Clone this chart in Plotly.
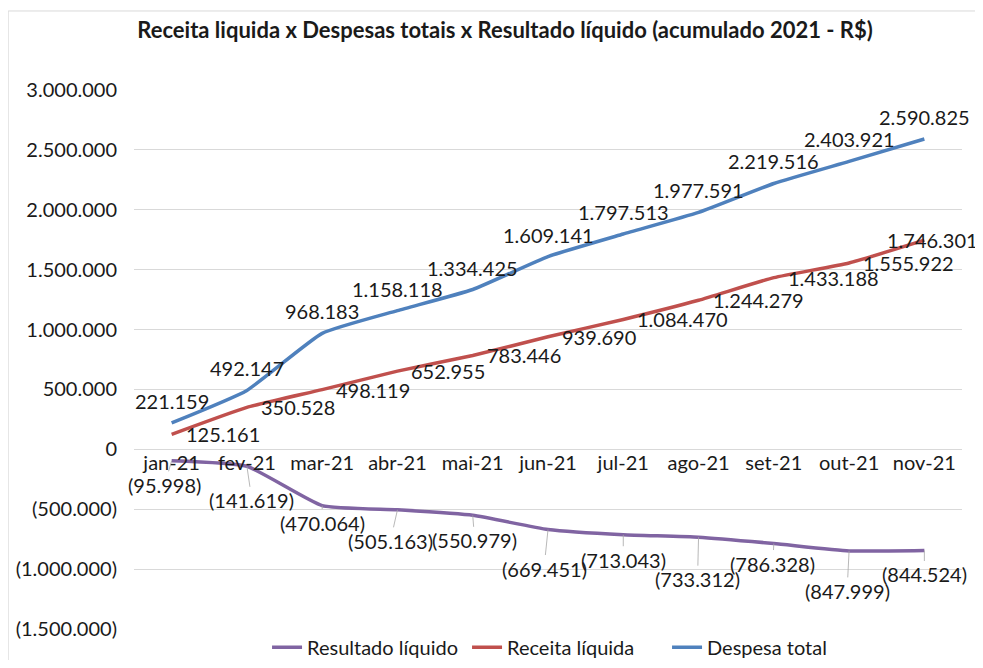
import plotly.graph_objects as go

months = ["jan-21", "fev-21", "mar-21", "abr-21", "mai-21", "jun-21",
          "jul-21", "ago-21", "set-21", "out-21", "nov-21"]
despesa_total = [221159, 492147, 968183, 1158118, 1334425, 1609141,
                 1797513, 1977591, 2219516, 2403921, 2590825]
receita_liquida = [125161, 350528, 498119, 652955, 783446, 939690,
                   1084470, 1244279, 1433188, 1555922, 1746301]
resultado_liquido = [-95998, -141619, -470064, -505163, -550979, -669451,
                     -713043, -733312, -786328, -847999, -844524]
y_ticks = [-1500000, -1000000, -500000, 0, 500000, 1000000,
           1500000, 2000000, 2500000, 3000000]
y_tick_text = ["(1.500.000)", "(1.000.000)", "(500.000)", "0", "500.000",
               "1.000.000", "1.500.000", "2.000.000", "2.500.000", "3.000.000"]

# label offsets in px (Excel moved the resultado labels by hand)
res_dx = [-7, 5, 0, -7, 2, -4, 0, -1, -1, -2, 0]
res_dy = [24, 34, 17, 31, 25, 39, 25, 42, 20, 40, 24]

PURPLE = "#8064A2"
RED = "#C0504D"
BLUE = "#4F81BD"
GRID = "#D9D9D9"
TXT = "#1a1a1a"
FONT = "Lato"


def fmt(v):
    s = f"{abs(v):,}".replace(",", ".")
    return f"({s})" if v < 0 else s


line_style = dict(width=3.5, shape="spline", smoothing=0.45)

fig = go.Figure()
fig.add_trace(go.Scatter(x=months, y=resultado_liquido, name="Resultado líquido",
                         mode="lines", line=dict(color=PURPLE, **line_style)))
fig.add_trace(go.Scatter(x=months, y=receita_liquida, name="Receita líquida",
                         mode="lines", line=dict(color=RED, **line_style)))
fig.add_trace(go.Scatter(x=months, y=despesa_total, name="Despesa total",
                         mode="lines", line=dict(color=BLUE, **line_style)))

annos = []
lab_font = dict(family=FONT, size=20, color=TXT)
for i, m in enumerate(months):
    # despesa: above
    annos.append(dict(x=m, y=despesa_total[i], text=fmt(despesa_total[i]),
                      showarrow=False, yshift=22, font=lab_font))
    # receita: right (last one pulled back inside)
    shift = 12 if i < len(months) - 1 else -39
    annos.append(dict(x=m, y=receita_liquida[i], text=fmt(receita_liquida[i]),
                      showarrow=False, xanchor="left", xshift=shift, font=lab_font))
    # resultado: below with leader lines
    annos.append(dict(x=m, y=resultado_liquido[i], text=fmt(resultado_liquido[i]),
                      showarrow=True, arrowhead=0, arrowwidth=0.8, arrowcolor="#A6A6A6",
                      ax=res_dx[i], ay=res_dy[i], standoff=0, font=lab_font))

y_min, y_max = y_ticks[0], y_ticks[-1]
zero_pos = (0 - y_min) / (y_max - y_min)

# page body has an 8px margin, so keep the figure small enough to avoid scrollbars
fig.update_layout(
    width=967, height=652,
    margin=dict(l=126, r=13, t=82, b=31, autoexpand=False),
    paper_bgcolor="white", plot_bgcolor="white",
    font=dict(family=FONT, size=19, color=TXT),
    title=dict(text="<b>Receita liquida x Despesas totais x Resultado líquido (acumulado 2021 - R$)</b>",
               x=0.514, xanchor="center", yref="container", y=0.966, yanchor="middle",
               font=dict(family=FONT, size=22, color=TXT)),
    xaxis=dict(type="category", categoryarray=months, range=[-0.5, len(months) - 0.5],
               anchor="free", position=zero_pos, showgrid=False, showline=False,
               zeroline=False, ticks="", tickfont=dict(family=FONT, size=20, color=TXT)),
    yaxis=dict(range=[y_min, y_max], tickvals=y_ticks, ticktext=y_tick_text,
               showgrid=True, gridcolor=GRID, gridwidth=1, zeroline=False,
               showline=False, ticks="", ticklabelstandoff=16,
               tickfont=dict(family=FONT, size=20, color=TXT)),
    legend=dict(orientation="h", x=0.523, xanchor="center", y=-0.034, yanchor="middle",
                entrywidth=155, entrywidthmode="pixels",
                font=dict(family=FONT, size=20, color=TXT), bgcolor="rgba(0,0,0,0)"),
    showlegend=True,
    annotations=annos,
    shapes=[dict(type="rect", xref="paper", yref="paper", x0=-0.152, x1=1.2,
                 y0=-0.3, y1=1.1466, line=dict(color=GRID, width=1), layer="below")],
)

fig.write_html("out.html")
